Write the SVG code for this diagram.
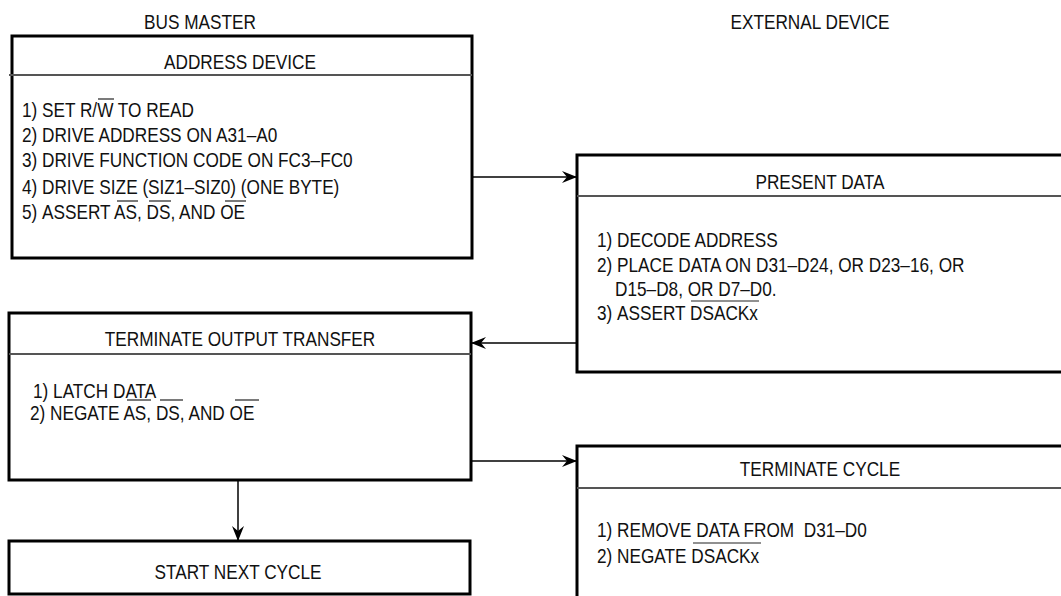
<svg xmlns="http://www.w3.org/2000/svg" width="1061" height="596" viewBox="0 0 1061 596">
<defs>
<style>
.t{font-family:"Liberation Sans",Arial,sans-serif;font-size:21px;fill:#111}
.c{text-anchor:middle}
.box{fill:#fff;stroke:#000;stroke-width:3}
.div{stroke:#555;stroke-width:2}
.bar{stroke:#222;stroke-width:1.2}
.con{stroke:#000;stroke-width:1.5;fill:none}
</style>
<marker id="ah" markerWidth="16" markerHeight="12" refX="15" refY="6" orient="auto" markerUnits="userSpaceOnUse">
<path d="M0,0 L15,6 L0,12 L5,6 Z" fill="#000"/>
</marker>
</defs>
<rect width="1061" height="596" fill="#fff"/>
<text class="t c" transform="matrix(0.82 0 0 1 200 29)">BUS MASTER</text>
<text class="t c" transform="matrix(0.82 0 0 1 810 29)">EXTERNAL DEVICE</text>
<g id="address-device">
<rect class="box" x="12" y="36" width="460" height="222"/>
<line class="div" x1="9" y1="75" x2="472" y2="75"/>
<text class="t c" transform="matrix(0.82 0 0 1 240 69)">ADDRESS DEVICE</text>
<text class="t" transform="matrix(0.82 0 0 1 22 117)">1)</text>
<text class="t" transform="matrix(0.82 0 0 1 42 117)">SET R/W TO READ</text>
<text class="t" transform="matrix(0.82 0 0 1 22 142)">2)</text>
<text class="t" transform="matrix(0.82 0 0 1 42 142)">DRIVE ADDRESS ON A31–A0</text>
<text class="t" transform="matrix(0.82 0 0 1 22 167)">3)</text>
<text class="t" transform="matrix(0.82 0 0 1 42 167)">DRIVE FUNCTION CODE ON FC3–FC0</text>
<text class="t" transform="matrix(0.82 0 0 1 22 194)">4)</text>
<text class="t" transform="matrix(0.82 0 0 1 42 194)">DRIVE SIZE (SIZ1–SIZ0) (ONE BYTE)</text>
<text class="t" transform="matrix(0.82 0 0 1 22 219)">5)</text>
<text class="t" transform="matrix(0.82 0 0 1 42 219)">ASSERT AS, DS, AND OE</text>
<line class="bar" x1="98" y1="99" x2="114" y2="99"/>
<line class="bar" x1="117" y1="201" x2="138" y2="201"/>
<line class="bar" x1="149" y1="201" x2="171" y2="201"/>
<line class="bar" x1="225" y1="201" x2="246" y2="201"/>
</g>
<g id="present-data">
<rect class="box" x="577" y="155" width="495" height="217"/>
<line class="div" x1="577" y1="196" x2="1061" y2="196"/>
<text class="t c" transform="matrix(0.82 0 0 1 820 189)">PRESENT DATA</text>
<text class="t" transform="matrix(0.82 0 0 1 597 247)">1)</text>
<text class="t" transform="matrix(0.82 0 0 1 617 247)">DECODE ADDRESS</text>
<text class="t" transform="matrix(0.82 0 0 1 597 272)">2)</text>
<text class="t" transform="matrix(0.82 0 0 1 617 272)">PLACE DATA ON D31–D24, OR D23–16, OR</text>
<text class="t" transform="matrix(0.82 0 0 1 615 296)">D15–D8, OR D7–D0.</text>
<text class="t" transform="matrix(0.82 0 0 1 597 320)">3)</text>
<text class="t" transform="matrix(0.82 0 0 1 617 320)">ASSERT DSACKx</text>
<line class="bar" x1="691" y1="301" x2="759" y2="301"/>
</g>
<g id="terminate-output-transfer">
<rect class="box" x="9" y="313" width="462" height="167"/>
<line class="div" x1="9" y1="354" x2="471" y2="354"/>
<text class="t c" transform="matrix(0.82 0 0 1 240 346)">TERMINATE OUTPUT TRANSFER</text>
<text class="t" transform="matrix(0.82 0 0 1 33 398)">1) LATCH DATA</text>
<text class="t" transform="matrix(0.82 0 0 1 30 420)">2) NEGATE AS, DS, AND OE</text>
<line class="bar" x1="127" y1="400" x2="151" y2="400"/>
<line class="bar" x1="160" y1="400" x2="183" y2="400"/>
<line class="bar" x1="235" y1="400" x2="259" y2="400"/>
</g>
<g id="start-next-cycle">
<rect class="box" x="9" y="541" width="461" height="53"/>
<text class="t c" transform="matrix(0.82 0 0 1 238 579)">START NEXT CYCLE</text>
</g>
<g id="terminate-cycle">
<rect class="box" x="577" y="446" width="495" height="160"/>
<line class="div" x1="577" y1="488" x2="1061" y2="488"/>
<text class="t c" transform="matrix(0.82 0 0 1 820 476)">TERMINATE CYCLE</text>
<text class="t" transform="matrix(0.82 0 0 1 597 537)">1)</text>
<text class="t" transform="matrix(0.82 0 0 1 617 537)" xml:space="preserve">REMOVE DATA FROM  D31–D0</text>
<text class="t" transform="matrix(0.82 0 0 1 597 563)">2)</text>
<text class="t" transform="matrix(0.82 0 0 1 617 563)">NEGATE DSACKx</text>
<line class="bar" x1="693" y1="543" x2="761" y2="543"/>
</g>
<g id="connectors">
<line class="con" x1="472" y1="177" x2="577" y2="177" marker-end="url(#ah)"/>
<line class="con" x1="577" y1="343" x2="471" y2="343" marker-end="url(#ah)"/>
<line class="con" x1="471" y1="461" x2="577" y2="461" marker-end="url(#ah)"/>
<line class="con" x1="238" y1="480" x2="238" y2="541" marker-end="url(#ah)"/>
</g>
</svg>
